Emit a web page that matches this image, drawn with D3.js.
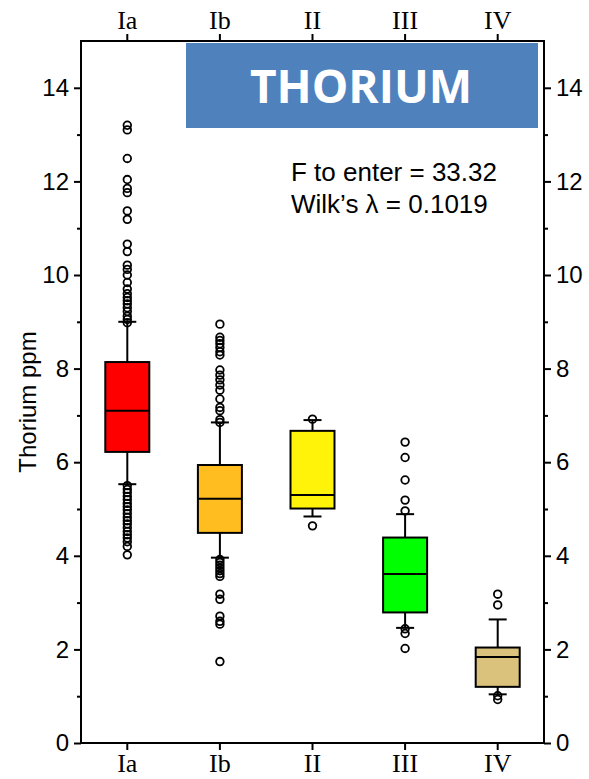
<!DOCTYPE html>
<html>
<head>
<meta charset="utf-8">
<script src="https://cdn.jsdelivr.net/npm/d3@7"></script>
<style>
  body { margin: 0; background: #fff; }
  svg { display: block; }
</style>
</head>
<body>
<div id="chart"></div>
<script>
var categories = ["Ia", "Ib", "II", "III", "IV"];
var q1 = [6.22, 4.49, 5.01, 2.79, 1.20];
var medians = [7.10, 5.22, 5.30, 3.61, 1.84];
var q3 = [8.14, 5.94, 6.67, 4.39, 2.04];
var whiskerLow = [5.53, 3.96, 4.84, 2.46, 1.04];
var whiskerHigh = [9.00, 6.85, 6.90, 4.89, 2.64];
var outliersIa = [13.2, 13.1, 12.49, 12.04, 11.85, 11.76, 11.37, 11.19, 10.66, 10.5, 10.21, 10.12, 10.0, 9.84,
    9.7, 9.6, 9.52, 9.45, 9.38, 9.3, 9.22, 9.12, 9.05, 8.98,
    5.5, 5.42, 5.35, 5.27, 5.2, 5.12, 5.05, 4.98, 4.9, 4.82, 4.75, 4.68, 4.6, 4.52, 4.45, 4.38, 4.3, 4.2, 4.02];
var outliersIb = [8.95, 8.67, 8.6, 8.53, 8.45, 8.36, 8.29, 7.97, 7.86, 7.76, 7.65, 7.54, 7.35, 7.17, 7.10, 6.91, 6.85,
    3.92, 3.86, 3.8, 3.74, 3.68, 3.62, 3.56, 3.18, 3.07, 2.71, 2.6, 2.54, 1.74];
var outliersII = [6.92, 4.64];
var outliersIII = [6.43, 6.10, 5.62, 5.19, 4.96, 2.44, 2.34, 2.02];
var outliersIV = [3.18, 2.95, 1.01, 0.93];
var outliers = [outliersIa, outliersIb, outliersII, outliersIII, outliersIV];
var boxColors = ["#ff0000", "#ffbd20", "#fff30a", "#00ff00", "#dbc27c"];
var yTicks = [0, 2, 4, 6, 8, 10, 12, 14];
var yMinorTicks = [1, 3, 5, 7, 9, 11, 13];

var W = 589, H = 779;
var plotLeft = 81, plotRight = 544, plotTop = 41, plotBottom = 743;

var svg = d3.select("#chart")
    .append("svg")
    .attr("width", W)
    .attr("height", H);

var x = d3.scaleBand()
    .domain(categories)
    .range([plotLeft, plotRight]);

var y = d3.scaleLinear()
    .domain([0, 15])
    .range([plotBottom, plotTop]);

var sans = "Arial, 'Liberation Sans', sans-serif";
var serif = "'Times New Roman', 'Liberation Serif', serif";

// title box
svg.append("rect")
    .attr("x", 186)
    .attr("y", 43)
    .attr("width", 352)
    .attr("height", 85)
    .attr("fill", "#4f81bd");

svg.append("text")
    .attr("x", 361)
    .attr("y", 103)
    .attr("text-anchor", "middle")
    .attr("fill", "#fff")
    .style("font-family", "'Open Sans', sans-serif")
    .style("font-weight", "bold")
    .style("font-size", "46px")
    .text("THORIUM");

svg.append("text")
    .attr("x", 291)
    .attr("y", 181)
    .style("font-family", sans)
    .style("font-size", "26px")
    .text("F to enter = 33.32");

svg.append("text")
    .attr("x", 291)
    .attr("y", 213)
    .style("font-family", sans)
    .style("font-size", "26px")
    .text("Wilk\u2019s \u03bb = 0.1019");

// axes
var styleAxis = function(g, font, size) {
    g.select(".domain").remove();
    g.selectAll("line").attr("stroke", "#000").attr("stroke-width", 2);
    g.selectAll("text")
        .attr("fill", "#000")
        .style("font-family", font)
        .style("font-size", size);
};

svg.append("g")
    .attr("transform", `translate(${plotLeft}, 0)`)
    .call(d3.axisLeft(y).tickValues(yTicks).tickSize(7).tickPadding(5))
    .call(styleAxis, sans, "24px");

svg.append("g")
    .attr("transform", `translate(${plotLeft}, 0)`)
    .call(d3.axisLeft(y).tickValues(yMinorTicks).tickSize(4).tickFormat(""))
    .call(styleAxis, sans, "24px");

svg.append("g")
    .attr("transform", `translate(${plotRight}, 0)`)
    .call(d3.axisRight(y).tickValues(yTicks).tickSize(7).tickPadding(5))
    .call(styleAxis, sans, "24px");

svg.append("g")
    .attr("transform", `translate(${plotRight}, 0)`)
    .call(d3.axisRight(y).tickValues(yMinorTicks).tickSize(4).tickFormat(""))
    .call(styleAxis, sans, "24px");

svg.append("g")
    .attr("transform", `translate(0, ${plotBottom})`)
    .call(d3.axisBottom(x).tickSize(7).tickPadding(4))
    .call(styleAxis, serif, "26px");

svg.append("g")
    .attr("transform", `translate(0, ${plotTop})`)
    .call(d3.axisTop(x).tickSize(7).tickPadding(5))
    .call(styleAxis, serif, "26px");

svg.append("rect")
    .attr("x", plotLeft)
    .attr("y", plotTop)
    .attr("width", plotRight - plotLeft)
    .attr("height", plotBottom - plotTop)
    .attr("fill", "none")
    .attr("stroke", "#000")
    .attr("stroke-width", 2);

svg.append("text")
    .attr("transform", `translate(36, 402) rotate(-90)`)
    .attr("text-anchor", "middle")
    .style("font-family", sans)
    .style("font-size", "24px")
    .text("Thorium ppm");

// boxes
var boxW = 44, capW = 18;
var cx = function(i) { return x(categories[i]) + x.bandwidth() / 2; };

categories.forEach(function(c, i) {
    let g = svg.append("g");
    g.append("line")
        .attr("x1", cx(i)).attr("x2", cx(i))
        .attr("y1", y(whiskerHigh[i])).attr("y2", y(q3[i]))
        .attr("stroke", "#000").attr("stroke-width", 2);
    g.append("line")
        .attr("x1", cx(i)).attr("x2", cx(i))
        .attr("y1", y(q1[i])).attr("y2", y(whiskerLow[i]))
        .attr("stroke", "#000").attr("stroke-width", 2);
    [whiskerHigh[i], whiskerLow[i]].forEach(function(v) {
        g.append("line")
            .attr("x1", cx(i) - capW / 2).attr("x2", cx(i) + capW / 2)
            .attr("y1", y(v)).attr("y2", y(v))
            .attr("stroke", "#000").attr("stroke-width", 2);
    });
    g.append("rect")
        .attr("x", cx(i) - boxW / 2)
        .attr("y", y(q3[i]))
        .attr("width", boxW)
        .attr("height", y(q1[i]) - y(q3[i]))
        .attr("fill", boxColors[i])
        .attr("stroke", "#000")
        .attr("stroke-width", 2);
    g.append("line")
        .attr("x1", cx(i) - boxW / 2).attr("x2", cx(i) + boxW / 2)
        .attr("y1", y(medians[i])).attr("y2", y(medians[i]))
        .attr("stroke", "#000").attr("stroke-width", 2);
    g.selectAll("circle")
        .data(outliers[i])
        .enter()
        .append("circle")
        .attr("cx", cx(i))
        .attr("cy", function(d) { return y(d); })
        .attr("r", 3.8)
        .attr("fill", "none")
        .attr("stroke", "#000")
        .attr("stroke-width", 1.8);
});
</script>
</body>
</html>
